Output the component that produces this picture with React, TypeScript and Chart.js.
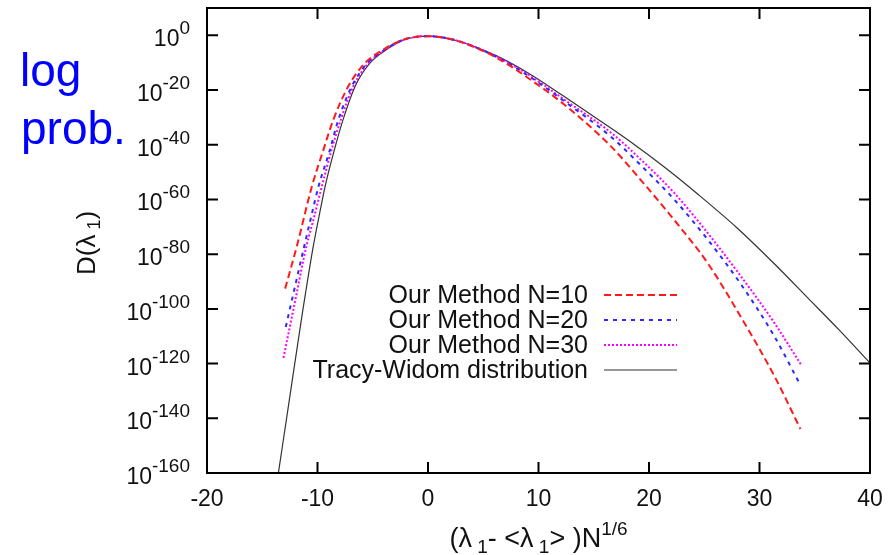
import { useEffect, useRef } from 'react';
import { Chart, registerables } from 'chart.js';

Chart.register(...registerables);

// ---- data (x = (λ1-<λ1>)N^{1/6}, y = log10 of probability density) ----
const xTicks = [-20, -10, 0, 10, 20, 30, 40];
const yTicks = [0, -20, -40, -60, -80, -100, -120, -140, -160];

const xN10 = [-12.93, -11.87, -10.5, -9.55, -8.55, -7.2, -5.67, -4.0, -2.35, -1.0, 0, 1.5, 3.24, 6.26, 9.28, 12.3, 16.54, 19.26, 22.28, 25.3, 28.32, 31.34, 33.7];
const yN10 = [-92.6, -77.1, -55.1, -42.9, -30.7, -18.5, -10.0, -5.1, -1.7, -0.5, -0.3, -0.9, -2.8, -8.3, -16.2, -25.2, -40.5, -52.9, -67.5, -83.2, -103.0, -124.5, -143.9];

const xN20 = [-12.87, -11.27, -10.63, -9.9, -8.95, -8.1, -6.88, -5.46, -3.86, -2.3, -1.0, 0, 1.5, 3.24, 6.26, 9.28, 12.3, 16.54, 19.26, 22.28, 25.3, 28.32, 31.34, 33.6];
const yN20 = [-106.6, -78.3, -67.3, -55.1, -42.9, -30.7, -18.5, -10.0, -5.1, -1.7, -0.5, -0.3, -0.9, -2.75, -8.0, -15.3, -24.0, -37.0, -47.5, -60.0, -74.6, -91.0, -110.0, -127.1];

const xN30 = [-13.08, -12.0, -11.0, -10.36, -9.6, -8.8, -7.88, -6.74, -5.35, -3.8, -2.25, -1.0, 0, 1.5, 3.24, 6.26, 9.28, 12.3, 16.54, 19.26, 22.28, 25.3, 28.32, 31.34, 33.76];
const yN30 = [-117.9, -96.6, -77.0, -67.3, -55.1, -42.9, -30.7, -18.5, -10.0, -5.1, -1.7, -0.5, -0.3, -0.9, -2.7, -7.8, -14.9, -23.4, -35.5, -45.4, -57.6, -72.2, -88.1, -105.1, -120.4];

const xTW = [-13.54, -12.5, -11.5, -10.42, -9.9, -9.3, -8.55, -7.7, -6.58, -5.22, -3.71, -2.2, -1.0, 0, 1.5, 3.24, 6.26, 9.28, 12.3, 15.3, 18.35, 21.5, 24.4, 28.0, 31.34, 34.37, 37.2, 40];
const yTW = [-160, -132, -105, -78, -67, -55, -43, -31, -18.5, -10.0, -5.1, -1.7, -0.5, -0.3, -0.9, -2.7, -7.6, -14.3, -22.3, -30.5, -39.0, -48.5, -58.0, -70.5, -83.5, -96.0, -107.7, -119.8];

const seriesLabels = ['Our Method N=10', 'Our Method N=20', 'Our Method N=30', 'Tracy-Widom distribution'];
const sideLabelLines = ['log', 'prob.'];

const FONT = '"Liberation Sans", Arial, sans-serif';

const pts = (xs: number[], ys: number[]) => xs.map((x, i) => ({ x, y: ys[i] }));

type Piece = { t: string; size: number; dy: number };

function drawPieces(ctx: CanvasRenderingContext2D, pieces: Piece[], cx: number, baseY: number) {
  let total = 0;
  pieces.forEach((p) => {
    ctx.font = `${p.size}px ${FONT}`;
    total += ctx.measureText(p.t).width;
  });
  let x = cx - total / 2;
  pieces.forEach((p) => {
    ctx.font = `${p.size}px ${FONT}`;
    ctx.fillText(p.t, x, baseY + p.dy);
    x += ctx.measureText(p.t).width;
  });
}

const decorPlugin = {
  id: 'gnuplotDecor',
  afterDraw(chart: any) {
    const { ctx, chartArea: a, scales } = chart;
    const xs = scales.x;
    const ys = scales.y;
    ctx.save();

    // frame
    ctx.strokeStyle = '#000';
    ctx.lineWidth = 2;
    ctx.strokeRect(a.left, a.top, a.right - a.left, a.bottom - a.top);

    // inward ticks, mirrored
    ctx.beginPath();
    xTicks.forEach((v) => {
      const px = xs.getPixelForValue(v);
      ctx.moveTo(px, a.bottom);
      ctx.lineTo(px, a.bottom - 11);
      ctx.moveTo(px, a.top);
      ctx.lineTo(px, a.top + 11);
    });
    yTicks.forEach((v) => {
      const py = ys.getPixelForValue(v);
      ctx.moveTo(a.left, py);
      ctx.lineTo(a.left + 11, py);
      ctx.moveTo(a.right, py);
      ctx.lineTo(a.right - 11, py);
    });
    ctx.stroke();

    // x tick labels
    ctx.fillStyle = '#111';
    ctx.textAlign = 'center';
    ctx.textBaseline = 'alphabetic';
    ctx.font = `23px ${FONT}`;
    xTicks.forEach((v) => {
      ctx.fillText(String(v), xs.getPixelForValue(v), a.bottom + 33);
    });

    // y tick labels 10^n
    ctx.textAlign = 'left';
    yTicks.forEach((v) => {
      const py = ys.getPixelForValue(v);
      const exp = String(v);
      ctx.font = `19px ${FONT}`;
      const we = ctx.measureText(exp).width;
      ctx.font = `23px ${FONT}`;
      const wb = ctx.measureText('10').width;
      const right = a.left - 17;
      ctx.fillText('10', right - we - wb, py + 11);
      ctx.font = `19px ${FONT}`;
      ctx.fillText(exp, right - we, py - 1);
    });

    // x title
    ctx.fillStyle = '#111';
    drawPieces(
      ctx,
      [
        { t: '(λ', size: 27, dy: 0 },
        { t: ' 1', size: 19, dy: 6 },
        { t: '- <λ', size: 27, dy: 0 },
        { t: ' 1', size: 19, dy: 6 },
        { t: '> )N', size: 27, dy: 0 },
        { t: '1/6', size: 19, dy: -12 },
      ],
      (a.left + a.right) / 2,
      547
    );

    // y title (rotated)
    ctx.save();
    ctx.translate(95, 243);
    ctx.rotate(-Math.PI / 2);
    drawPieces(
      ctx,
      [
        { t: 'D(λ', size: 26, dy: 0 },
        { t: ' 1', size: 18, dy: 5 },
        { t: ')', size: 26, dy: 0 },
      ],
      0,
      0
    );
    ctx.restore();

    // legend
    const metas = chart.data.datasets;
    metas.forEach((ds: any, i: number) => {
      const y = 295 + i * 25;
      ctx.fillStyle = '#111';
      ctx.font = `25px ${FONT}`;
      ctx.textAlign = 'right';
      ctx.textBaseline = 'middle';
      ctx.fillText(ds.label, 588, y + 1);
      ctx.strokeStyle = ds.borderColor;
      ctx.lineWidth = ds.borderWidth;
      ctx.setLineDash(ds.borderDash || []);
      ctx.beginPath();
      ctx.moveTo(604, y);
      ctx.lineTo(677, y);
      ctx.stroke();
      ctx.setLineDash([]);
    });

    // side annotation
    ctx.fillStyle = '#0000ff';
    ctx.font = `46px ${FONT}`;
    ctx.textAlign = 'left';
    ctx.textBaseline = 'alphabetic';
    ctx.fillText(sideLabelLines[0], 20, 86);
    ctx.fillText(sideLabelLines[1], 21, 144);

    ctx.restore();
  },
};

export default function App() {
  const ref = useRef<HTMLCanvasElement | null>(null);

  useEffect(() => {
    if (!ref.current) return;
    const common = { pointRadius: 0, fill: false, cubicInterpolationMode: 'monotone' as const };
    const chart = new Chart(ref.current, {
      type: 'line',
      data: {
        datasets: [
          { ...common, label: seriesLabels[0], data: pts(xN10, yN10), borderColor: '#ff1a1a', borderWidth: 2, borderDash: [7, 4] },
          { ...common, label: seriesLabels[1], data: pts(xN20, yN20), borderColor: '#2a2aff', borderWidth: 2, borderDash: [4, 5] },
          { ...common, label: seriesLabels[2], data: pts(xN30, yN30), borderColor: '#ff00ff', borderWidth: 2, borderDash: [2, 2] },
          { ...common, label: seriesLabels[3], data: pts(xTW, yTW), borderColor: '#333333', borderWidth: 1.2 },
        ],
      },
      options: {
        animation: false,
        responsive: false,
        maintainAspectRatio: false,
        parsing: false as any,
        layout: { padding: { top: 8, right: 26, left: 0, bottom: 0 } },
        plugins: { legend: { display: false }, tooltip: { enabled: false } },
        scales: {
          x: {
            type: 'linear',
            min: -20,
            max: 40,
            grid: { display: false },
            border: { display: false },
            ticks: { display: false },
            afterFit: (s: any) => {
              s.height = 82;
            },
          },
          y: {
            type: 'linear',
            min: -160,
            max: 10,
            grid: { display: false },
            border: { display: false },
            ticks: { display: false },
            afterFit: (s: any) => {
              s.width = 207;
            },
          },
        },
      },
      plugins: [decorPlugin],
    });
    return () => chart.destroy();
  }, []);

  return (
    <div style={{ position: 'fixed', left: 0, top: 0, width: 896, height: 555, background: '#fff' }}>
      <canvas ref={ref} width={896} height={555} style={{ display: 'block' }} />
    </div>
  );
}
